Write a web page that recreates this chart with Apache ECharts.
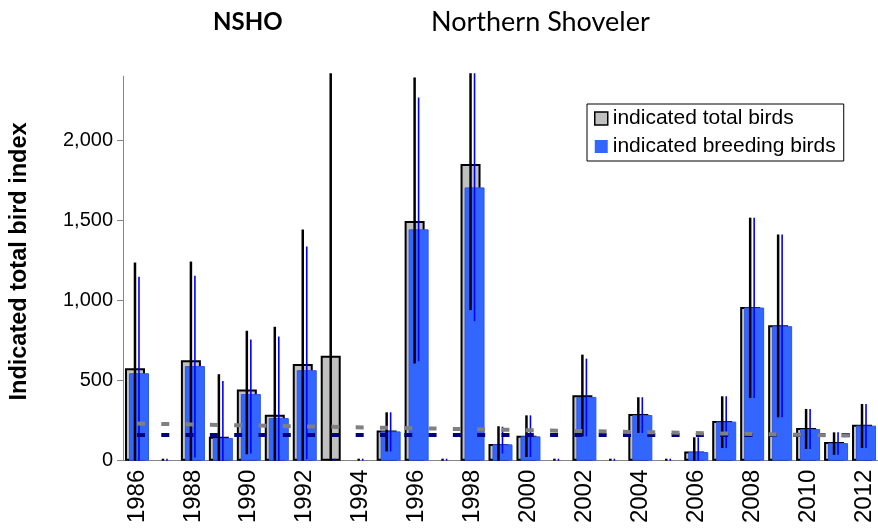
<!DOCTYPE html>
<html>
<head>
<meta charset="utf-8">
<script src="https://cdn.jsdelivr.net/npm/echarts@6/dist/echarts.min.js"></script>
<style>
html,body{margin:0;padding:0;background:#fff;}
#chart{width:878px;height:531px;}
</style>
</head>
<body>
<div id="chart"></div>
<script>
// Survey years
var years = ['1986','1987','1988','1989','1990','1991','1992','1993','1994','1995','1996','1997','1998','1999',
             '2000','2001','2002','2003','2004','2005','2006','2007','2008','2009','2010','2011','2012'];

// Indicated total birds (null = no estimate)
var totalBirds = [577, null, 627, 149, 445, 287, 603, 655, null, 188, 1496, null, 1852, 104,
                  156, null, 408, null, 292, null, 58, 248, 960, 846, 204, 117, 225];

// Indicated breeding birds
var breedingBirds = [546, null, 591, 142, 416, 266, 565, null, null, 183, 1444, null, 1706, 102,
                     152, null, 398, null, 285, null, 54, 244, 956, 840, 198, 110, 219];

// Confidence limits, total birds
var totalLow  = [0, 0, 0, 0, 40, 0, 0, 0, 0, 58, 606, 0, 940, 0,
                 23, 0, 152, 0, 173, 0, 0, 79, 392, 271, 73, 37, 79];
var totalHigh = [1237, 0, 1243, 540, 811, 836, 1443, 2600, 0, 302, 2392, 0, 2600, 215,
                 283, 0, 662, 0, 396, 0, 146, 402, 1517, 1412, 323, 177, 354];

// Confidence limits, breeding birds
var breedingLow  = [0, 0, 20, 0, 45, 0, 10, 0, 0, 58, 620, 0, 871, 45,
                    23, 0, 152, 0, 173, 0, 0, 79, 392, 271, 73, 37, 79];
var breedingHigh = [1148, 0, 1154, 497, 757, 775, 1337, 0, 0, 302, 2267, 0, 2600, 212,
                    283, 0, 637, 0, 396, 0, 146, 402, 1517, 1412, 323, 177, 354];

// Long-term reference lines
var totalTrend = [232, 155];     // start / end of total-bird trend
var breedingMean = [164, 164];   // breeding-bird average

var yTicks = [0, 500, 1000, 1500, 2000];

var BAR_W = 20;
var BAR_SHIFT = 2; // half the offset between the overlapping bars

function errorBars(low, high) {
  return years.map(function (y, i) { return [i, low[i], high[i]]; });
}

function errorRenderer(offset, color, width) {
  return function (params, api) {
    var i = api.value(0);
    var pLow = api.coord([i, api.value(1)]);
    var pHigh = api.coord([i, api.value(2)]);
    var x = pLow[0] + offset;
    var y1 = pLow[1], y2 = pHigh[1];
    var top = params.coordSys.y - 3;
    if (y2 < top) y2 = top;
    if (y1 - y2 < 2) y2 = y1 - 2;
    return {
      type: 'line',
      shape: { x1: x, y1: y1, x2: x, y2: y2 },
      style: { stroke: color, lineWidth: width }
    };
  };
}

var FONT = 'Liberation Sans, Arial, sans-serif';

var chart = echarts.init(document.getElementById('chart'), null, { renderer: 'canvas' });
chart.setOption({
  animation: false,
  backgroundColor: '#fff',
  title: [
    { text: 'NSHO', left: 213, top: 10, padding: 0,
      textStyle: { fontFamily: 'Lato', fontWeight: 'bold', fontSize: 24, color: '#000' } },
    { text: 'Northern Shoveler', left: 431, top: 9, padding: 0,
      textStyle: { fontFamily: 'Lato', fontWeight: 'normal', fontSize: 27, color: '#000' } }
  ],
  legend: {
    orient: 'vertical', left: 587, top: 104,
    padding: [4, 8, 4, 7], itemGap: 7, itemWidth: 13, itemHeight: 13,
    borderColor: '#000', borderWidth: 1, backgroundColor: '#fff',
    textStyle: { fontFamily: FONT, fontSize: 21, color: '#000' },
    data: [
      { name: 'indicated total birds', icon: 'rect',
        itemStyle: { color: '#C0C0C0', borderColor: '#000', borderWidth: 1.5 } },
      { name: 'indicated breeding birds', icon: 'rect',
        itemStyle: { color: '#3366FF', borderColor: '#3366FF', borderWidth: 0 } }
    ]
  },
  grid: { left: 123, top: 76.2, width: 759.5, height: 384.5, containLabel: false },
  xAxis: {
    type: 'category', data: years, boundaryGap: true,
    axisLine: { lineStyle: { color: '#868686', width: 1 } },
    axisTick: { interval: 0, length: 6, lineStyle: { color: '#868686' } },
    axisLabel: { interval: 1, rotate: 90, fontFamily: FONT, fontSize: 24, color: '#000', margin: 9 },
    splitLine: { show: false }
  },
  yAxis: {
    type: 'value', min: 0, max: 2400,
    name: 'Indicated total bird index', nameLocation: 'middle', nameRotate: 90, nameGap: 91,
    nameTextStyle: { fontFamily: FONT, fontWeight: 'bold', fontSize: 23.5, color: '#000',
      padding: [0, 0, 0, 14] },
    axisLine: { show: true, lineStyle: { color: '#868686', width: 1 } },
    axisTick: { show: true, length: 6, customValues: yTicks, lineStyle: { color: '#868686' } },
    axisLabel: { customValues: yTicks, fontFamily: FONT, fontSize: 20, color: '#000', margin: 10,
      formatter: function (v) { return v.toLocaleString('en-US'); } },
    splitLine: { show: false }
  },
  series: [
    { name: 'indicated total birds', type: 'bar', data: totalBirds,
      barWidth: BAR_W, barGap: '-80%', z: 2,
      itemStyle: { color: '#C0C0C0', borderColor: '#000', borderWidth: 2 } },
    { name: 'indicated breeding birds', type: 'bar', data: breedingBirds,
      barWidth: BAR_W, barGap: '-80%', z: 2,
      itemStyle: { color: '#3366FF', borderColor: '#2F55E8', borderWidth: 1 } },
    { name: 'total limits', type: 'custom', data: errorBars(totalLow, totalHigh), z: 3,
      encode: { x: 0, y: [1, 2] }, clip: false,
      renderItem: errorRenderer(-BAR_SHIFT, '#000', 2.5) },
    { name: 'breeding limits', type: 'custom', data: errorBars(breedingLow, breedingHigh), z: 3,
      encode: { x: 0, y: [1, 2] }, clip: false,
      renderItem: errorRenderer(BAR_SHIFT, '#0000FF', 1.6) },
    { name: 'breeding mean', type: 'line', data: [], z: 4, silent: true,
      markLine: { silent: true, symbol: 'none', animation: false, label: { show: false },
        lineStyle: { color: '#000080', width: 4, type: [8, 16.3], cap: 'butt' },
        data: [[{ coord: [years[0], breedingMean[0]] }, { coord: [years[years.length - 1], breedingMean[1]] }]] } },
    { name: 'total trend', type: 'line', data: [], z: 5, silent: true,
      markLine: { silent: true, symbol: 'none', animation: false, label: { show: false },
        lineStyle: { color: '#808080', width: 4, type: [8, 16.3], cap: 'butt' },
        data: [[{ coord: [years[0], totalTrend[0]] }, { coord: [years[years.length - 1], totalTrend[1]] }]] } }
  ]
});
</script>
</body>
</html>
